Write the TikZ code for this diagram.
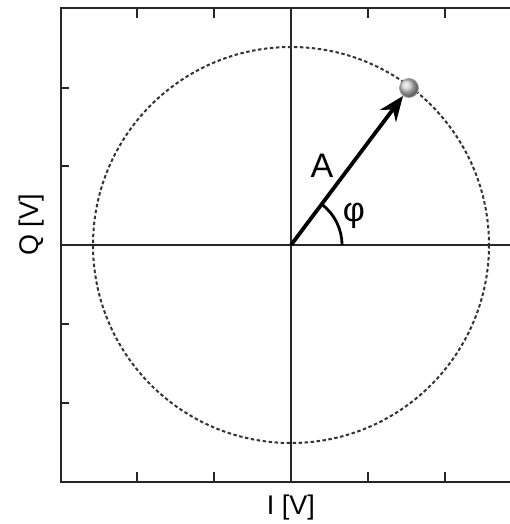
\documentclass[tikz,border=0pt]{standalone}
\usepackage{fontspec}
\setmainfont{Liberation Sans}
\usetikzlibrary{arrows.meta}
\tikzset{
  frameline/.style={line width=2.2pt, black!85},
  axisline/.style={line width=1.8pt, black!85},
  tickline/.style={line width=1.6pt, black!85},
  circ/.style={line width=2pt, black!80, dash pattern=on 3.5pt off 2.5pt},
  vec/.style={line width=3.8pt, -{Stealth[length=25pt,width=20pt,inset=8pt]}},
  axlabel/.style={font=\fontsize{27}{27}\selectfont, inner sep=0pt},
  biglabel/.style={font=\fontsize{34}{34}\selectfont, inner sep=0pt}
}
\begin{document}
\begin{tikzpicture}[x=1pt,y=-1pt]
\useasboundingbox (0,0) rectangle (510,524);
\fill[white] (0,0) rectangle (510,524);
\coordinate (O) at (291,245);
% frame
\draw[frameline] (510,8) -- (61,8) -- (61,482) -- (510,482);
% ticks
\foreach \x in {137,214,368,445} {
  \draw[tickline] (\x,8) -- (\x,18);
  \draw[tickline] (\x,482) -- (\x,472);
}
\foreach \y in {88,166,324,403} {
  \draw[tickline] (61,\y) -- (69,\y);
}
% axes
\draw[axisline] (61,245) -- (510,245);
\draw[axisline] (291,8) -- (291,482);
% circle
\draw[circ] (O) circle[radius=198];
% angle arc
\draw[line width=2.8pt] (O) ++(51,0) arc[start angle=0, end angle=-53, radius=51];
% point and vector
\node[circle, minimum size=19pt, inner sep=0pt, ball color=gray!40, draw=gray!75, line width=0.8pt] (P) at (409,88) {};
\draw[vec] (O) -- (P);
% labels
\node[biglabel] (A) at (322,166) {A};
\node[biglabel] (phi) at (354,216) {φ};
\node[axlabel, rotate=90] (Q) at (32,225) {Q [V]};
\node[axlabel] (I) at (291,508) {I [V]};
\end{tikzpicture}
\end{document}
